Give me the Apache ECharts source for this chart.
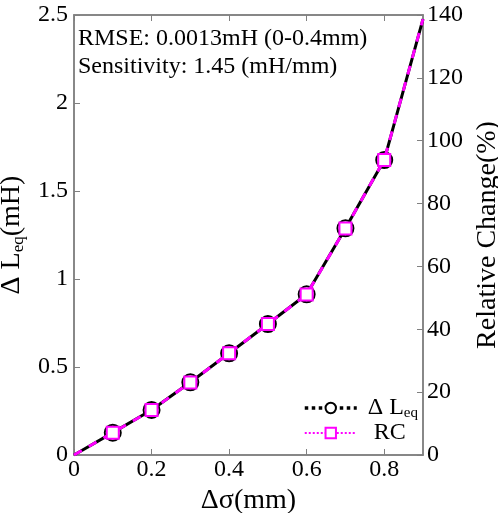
<!DOCTYPE html>
<html>
<head>
<meta charset="utf-8">
<script src="https://cdn.jsdelivr.net/npm/echarts@6/dist/echarts.min.js"></script>
<style>
  html, body { margin: 0; padding: 0; background: #fff; }
  #main { width: 498px; height: 513px; }
</style>
</head>
<body>
<div id="main"></div>
<script>
// 数据
let xVals = [0, 0.1, 0.2, 0.3, 0.4, 0.5, 0.6, 0.7, 0.8, 0.9];
let deltaL = [0, 0.127, 0.256, 0.413, 0.578, 0.744, 0.913, 1.288, 1.676, 2.477];
let rcVals = [0, 7.1, 14.3, 23.1, 32.4, 41.7, 51.1, 72.1, 93.9, 138.7];
let xTicks = [0, 0.2, 0.4, 0.6, 0.8];
let leftTicks = [0, 0.5, 1, 1.5, 2, 2.5];
let rightTicks = [0, 20, 40, 60, 80, 100, 120, 140];
let noteLines = ['RMSE: 0.0013mH (0-0.4mm)', 'Sensitivity: 1.45 (mH/mm)'];

const FONT = '"Liberation Serif", "DejaVu Serif", serif';
const AXIS_COLOR = '#808080';

function pairs(ys) {
  return xVals.map(function (x, i) { return [x, ys[i]]; });
}
// 端点不画标记
function markSize(size) {
  return function (val, params) {
    let i = params.dataIndex;
    return (i === 0 || i === xVals.length - 1) ? 0 : size;
  };
}

function subRich(size) {
  return {
    a: { fontFamily: FONT, fontSize: size, color: '#000' },
    s: { fontFamily: FONT, fontSize: Math.round(size * 0.62), color: '#000', verticalAlign: 'bottom', padding: [Math.round(size * 0.45), 0, 0, 0] }
  };
}

function axisParts(ticks, labelShow, margin) {
  return {
    axisLine: { show: true, onZero: false, lineStyle: { color: AXIS_COLOR, width: 1.5 } },
    axisTick: { show: true, inside: true, length: 6, customValues: ticks, lineStyle: { color: AXIS_COLOR, width: 1 } },
    splitLine: { show: false },
    axisLabel: {
      show: labelShow, customValues: ticks, fontFamily: FONT, fontSize: 24, color: '#000', margin: margin,
      formatter: function (v) { return String(v); }
    }
  };
}

function createChart() {
  let myChart = echarts.init(document.getElementById('main'));
  let option = {
    animation: false,
    backgroundColor: '#fff',
    grid: {
      left: 74, right: 75, top: 15, bottom: 58, containLabel: false, outerBoundsMode: 'none',
      show: true, borderColor: AXIS_COLOR, borderWidth: 1.5, backgroundColor: 'transparent'
    },
    legend: {
      orient: 'vertical',
      left: 298,
      top: 391,
      itemWidth: 52,
      itemHeight: 13,
      itemGap: 0,
      textStyle: { fontFamily: FONT, fontSize: 24, color: '#000', rich: subRich(24) },
      formatter: function (name) {
        return name === 'dL' ? ' {a|Δ L}{s|eq}' : '  {a|RC}';
      },
      data: [
        { name: 'dL', lineStyle: { type: 'dotted', width: 3.5, color: '#000' } },
        { name: 'RC', lineStyle: { type: 'dotted', width: 2, color: '#ff00ff' } }
      ]
    },
    graphic: noteLines.map(function (t, i) {
      return {
        type: 'text',
        left: 78,
        top: 27 + i * 28,
        style: { text: t, fontFamily: FONT, fontSize: 24, fill: '#000' }
      };
    }),
    xAxis: [
      Object.assign({
        type: 'value', min: 0, max: 0.9, interval: 0.2, position: 'bottom',
        name: 'Δσ(mm)', nameLocation: 'middle', nameGap: 27,
        nameTextStyle: { fontFamily: FONT, fontSize: 28, color: '#000' }
      }, axisParts(xTicks, true, 3)),
      Object.assign({
        type: 'value', min: 0, max: 0.9, interval: 0.2, position: 'top'
      }, axisParts(xTicks, false, 6))
    ],
    yAxis: [
      Object.assign({
        type: 'value', min: 0, max: 2.5, interval: 0.5, position: 'left',
        name: '{a|Δ L}{s|eq}{a|(mH)}', nameLocation: 'middle', nameGap: 40,
        nameTextStyle: { rich: subRich(28) }
      }, axisParts(leftTicks, true, 6)),
      Object.assign({
        type: 'value', min: 0, max: 140, interval: 20, position: 'right',
        name: 'Relative Change(%)', nameLocation: 'middle', nameGap: 46, nameRotate: 90,
        nameTextStyle: { fontFamily: FONT, fontSize: 28, color: '#000' }
      }, axisParts(rightTicks, true, 4))
    ],
    series: [
      {
        name: 'dL',
        type: 'line',
        xAxisIndex: 0,
        yAxisIndex: 0,
        data: pairs(deltaL),
        symbol: 'emptyCircle',
        symbolSize: markSize(16),
        showAllSymbol: true,
        lineStyle: { color: '#000', width: 3 },
        itemStyle: { color: '#000', borderColor: '#000', borderWidth: 2.5 },
        z: 2
      },
      {
        name: 'RC',
        type: 'line',
        xAxisIndex: 0,
        yAxisIndex: 1,
        data: pairs(rcVals),
        symbol: 'emptyRect',
        symbolSize: markSize(12),
        showAllSymbol: true,
        lineStyle: { color: '#ff00ff', width: 3, type: [9, 8] },
        itemStyle: { color: '#ff00ff', borderColor: '#ff00ff', borderWidth: 3 },
        z: 3
      }
    ]
  };
  myChart.setOption(option);
}

createChart();
</script>
</body>
</html>
